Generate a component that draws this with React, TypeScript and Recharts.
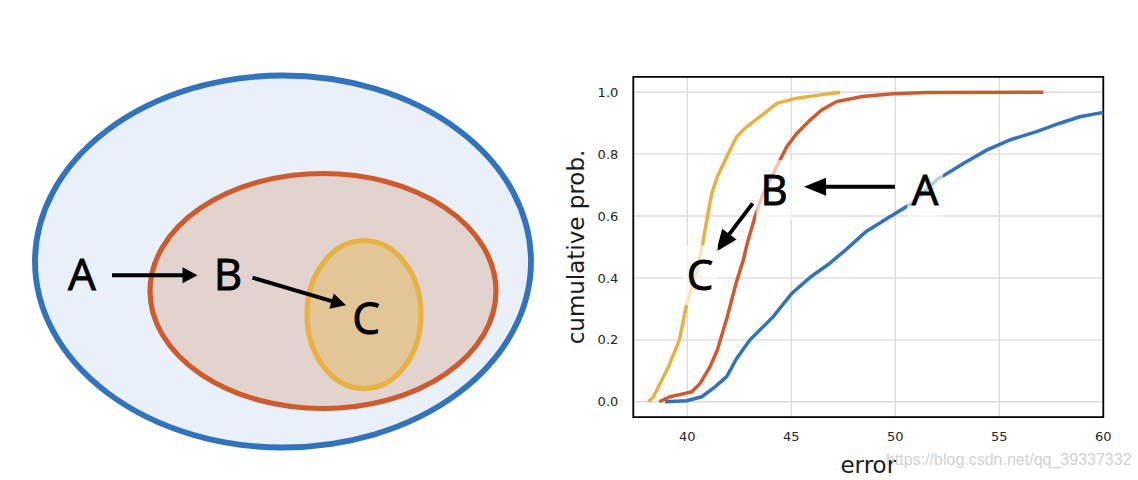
import React from "react";
import {
  CartesianGrid,
  ComposedChart,
  Label,
  Line,
  LineChart,
  ReferenceArea,
  ReferenceDot,
  ReferenceLine,
  Scatter,
  XAxis,
  YAxis,
} from "recharts";

const TICK_FONT = "'DejaVu Sans', sans-serif";
const LETTER_FONT = "'Open Sans', sans-serif";

const BLUE = "#3173bd";
const ORANGE = "#cd5b2d";
const YELLOW = "#e7b243";

// CDF curves, error vs cumulative probability
const errA = [38.93, 39.97, 40.69, 41.33, 41.89, 42.37, 43.01, 44.13, 45.02, 45.9, 46.8, 47.6, 48.6, 49.74, 50.79, 51.99, 53.27, 54.39, 55.51, 56.79, 57.91, 58.87, 60];
const probA = [0, 0.003, 0.016, 0.048, 0.081, 0.14, 0.2, 0.275, 0.35, 0.402, 0.445, 0.49, 0.55, 0.598, 0.641, 0.717, 0.77, 0.813, 0.846, 0.873, 0.9, 0.921, 0.935];

const errB = [38.65, 39.17, 39.89, 40.21, 40.61, 41.09, 41.44, 41.92, 42.34, 42.69, 42.88, 43.25, 43.58, 43.98, 44.54, 44.78, 45.26, 45.9, 46.46, 47.18, 48.4, 49.9, 51.5, 57.12];
const probB = [0, 0.016, 0.027, 0.032, 0.059, 0.113, 0.167, 0.275, 0.383, 0.458, 0.512, 0.598, 0.663, 0.717, 0.792, 0.824, 0.867, 0.91, 0.943, 0.97, 0.986, 0.995, 0.999, 1.0];

const errC = [38.13, 38.37, 39.09, 39.62, 39.97, 40.37, 40.74, 40.96, 41.17, 41.44, 41.89, 42.37, 42.8, 43.17, 43.58, 44.3, 45.26, 46.22, 47.34];
const probC = [0, 0.016, 0.113, 0.2, 0.318, 0.4, 0.512, 0.598, 0.673, 0.727, 0.792, 0.856, 0.885, 0.905, 0.925, 0.964, 0.981, 0.99, 1.0];

const xTicks = [40, 45, 50, 55, 60];
const yTicks = [0, 0.2, 0.4, 0.6, 0.8, 1.0];

// chart annotations in data units
const noteLetters = ["A", "B", "C"];
const noteErr = [51.43, 44.17, 40.61];
const noteProb = [0.684, 0.684, 0.409];
// arrows A->B and B->C: [fromErr, fromProb, toErr, toProb]
const noteArrows = [
  [49.98, 0.695, 45.61, 0.695],
  [43.14, 0.641, 41.38, 0.485],
];

// set diagram (left), in diagram units: A contains B contains C
const setNames = ["A", "B", "C"];
const setCx = [283, 323, 364];
const setCy = [261.5, 291, 314.5];
const setRx = [248, 173, 57];
const setRy = [186, 117.5, 74];
const setLabelX = [82, 228, 366];
const setLabelY = [274.5, 274.5, 318];
const setArrows = [
  [112, 275.3, 197.5, 275.3],
  [252.5, 277.7, 346, 305.3],
];

const setStroke = [BLUE, ORANGE, YELLOW];
const setFill = ["#e9f0f8", "#e3d3cf", "#e3c698"];

const zip = (xs: number[], ys: number[]) => xs.map((x, i) => ({ x, y: ys[i] }));
const dataA = zip(errA, probA);
const dataB = zip(errB, probB);
const dataC = zip(errC, probC);
const setLabelData = setNames.map((name, i) => ({ name, x: setLabelX[i], y: setLabelY[i] }));

const arrowShape = (head: number, half: number, width: number) => (p: any) => {
  const { x1, y1, x2, y2 } = p;
  const dx = x2 - x1;
  const dy = y2 - y1;
  const len = Math.hypot(dx, dy) || 1;
  const ux = dx / len;
  const uy = dy / len;
  const bx = x2 - ux * head;
  const by = y2 - uy * head;
  const px = -uy;
  const py = ux;
  return (
    <g>
      <line x1={x1} y1={y1} x2={bx + ux} y2={by + uy} stroke="#000" strokeWidth={width} />
      <polygon
        points={`${x2},${y2} ${bx + px * half},${by + py * half} ${bx - px * half},${by - py * half}`}
        fill="#000"
      />
    </g>
  );
};

const letter = (ch: string, cx: number, cy: number, fs: number, box?: { w: number; h: number }) => (
  <g>
    {box && (
      <rect
        x={cx - box.w / 2}
        y={cy - box.h / 2}
        width={box.w}
        height={box.h}
        fill="#fff"
        fillOpacity={0.65}
      />
    )}
    <text
      x={cx}
      y={cy + 0.36 * fs}
      textAnchor="middle"
      fontSize={fs}
      fontFamily={LETTER_FONT}
      fill="#000"
      stroke="#000"
      strokeWidth={0.9}
    >
      {ch}
    </text>
  </g>
);

const ellipseShape = (stroke: string, fill: string, w: number) => (p: any) => {
  const { x, y, width, height } = p;
  return (
    <ellipse
      cx={x + width / 2}
      cy={y + height / 2}
      rx={width / 2}
      ry={height / 2}
      fill={fill}
      stroke={stroke}
      strokeWidth={w}
    />
  );
};

function SetDiagram() {
  return (
    <ComposedChart width={560} height={480} data={setLabelData} margin={{ top: 0, right: 0, bottom: 0, left: 0 }}>
      <XAxis type="number" dataKey="x" domain={[0, 560]} allowDataOverflow hide />
      <YAxis type="number" dataKey="y" domain={[0, 480]} allowDataOverflow reversed hide />
      {setNames.map((n, i) => (
        <ReferenceArea
          key={n}
          x1={setCx[i] - setRx[i]}
          x2={setCx[i] + setRx[i]}
          y1={setCy[i] - setRy[i]}
          y2={setCy[i] + setRy[i]}
          ifOverflow="visible"
          shape={ellipseShape(setStroke[i], setFill[i], i === 0 ? 5.8 : 5.2)}
        />
      ))}
      {setArrows.map((a, i) => (
        <ReferenceLine
          key={"arr" + i}
          segment={[{ x: a[0], y: a[1] }, { x: a[2], y: a[3] }]}
          ifOverflow="visible"
          shape={arrowShape(15, 8, 4)}
        />
      ))}
      <Scatter
        dataKey="y"
        isAnimationActive={false}
        shape={(p: any) => letter(p.payload.name, p.cx, p.cy, 44)}
      />
    </ComposedChart>
  );
}

const yLabel = (props: any) => {
  const vb = props.viewBox;
  const cx = vb.x - 12;
  const cy = vb.y + vb.height / 2;
  return (
    <text
      x={cx}
      y={cy}
      transform={`rotate(-90 ${cx} ${cy})`}
      textAnchor="middle"
      dominantBaseline="central"
      fontSize={23}
      fontFamily={TICK_FONT}
      fill="#1a1a1a"
    >
      cumulative prob.
    </text>
  );
};

const xLabel = (props: any) => {
  const vb = props.viewBox;
  return (
    <text
      x={vb.x + vb.width / 2}
      y={vb.y + 56}
      textAnchor="middle"
      fontSize={23}
      fontFamily={TICK_FONT}
      fill="#1a1a1a"
    >
      error
    </text>
  );
};

function CdfChart() {
  const tick = { fill: "#262626", fontSize: 13, fontFamily: TICK_FONT };
  return (
    <LineChart width={578} height={480} margin={{ top: 76.8, right: 34.7, bottom: 32.8, left: 28.3 }}>
      <CartesianGrid stroke="#dcdcdc" strokeWidth={1.4} />
      <XAxis
        type="number"
        dataKey="x"
        domain={[37.4, 60]}
        ticks={xTicks}
        allowDataOverflow
        tick={tick}
        tickLine={false}
        axisLine={false}
        tickMargin={9}
        height={30}
      >
        <Label content={xLabel} />
      </XAxis>
      <YAxis
        type="number"
        dataKey="y"
        domain={[-0.05, 1.05]}
        ticks={yTicks}
        allowDataOverflow
        tick={tick}
        tickFormatter={(v: number) => v.toFixed(1)}
        tickLine={false}
        axisLine={false}
        tickMargin={9}
        width={45}
      >
        <Label content={yLabel} />
      </YAxis>
      <Line data={dataA} dataKey="y" type="linear" stroke={BLUE} strokeWidth={3.5} dot={false} isAnimationActive={false} />
      <Line data={dataB} dataKey="y" type="linear" stroke={ORANGE} strokeWidth={3.5} dot={false} isAnimationActive={false} />
      <Line data={dataC} dataKey="y" type="linear" stroke={YELLOW} strokeWidth={3.5} dot={false} isAnimationActive={false} />
      <ReferenceArea x1={37.4} x2={60} y1={-0.05} y2={1.05} fill="none" fillOpacity={0} stroke="#000" strokeWidth={1.8} ifOverflow="visible" />
      {noteArrows.map((a, i) => (
        <ReferenceLine
          key={"na" + i}
          segment={[{ x: a[0], y: a[1] }, { x: a[2], y: a[3] }]}
          ifOverflow="visible"
          shape={arrowShape(22, 9, 4)}
        />
      ))}
      {noteLetters.map((n, i) => (
        <ReferenceDot
          key={"nl" + n}
          x={noteErr[i]}
          y={noteProb[i]}
          ifOverflow="visible"
          shape={(p: any) => letter(n, p.cx, p.cy, 42, { w: 36, h: 60 })}
        />
      ))}
    </LineChart>
  );
}

export default function App() {
  return (
    <div style={{ position: "absolute", left: 0, top: 0, width: 1138, height: 480, background: "#fff" }}>
      <div style={{ position: "absolute", left: 0, top: 0 }}>
        <SetDiagram />
      </div>
      <div style={{ position: "absolute", left: 560, top: 0 }}>
        <CdfChart />
      </div>
      <div
        style={{
          position: "absolute",
          left: 886,
          top: 451,
          fontFamily: "'Liberation Sans', Arial, sans-serif",
          fontSize: 16,
          color: "#d2d2d2",
          whiteSpace: "nowrap",
        }}
      >
        https://blog.csdn.net/qq_39337332
      </div>
    </div>
  );
}
